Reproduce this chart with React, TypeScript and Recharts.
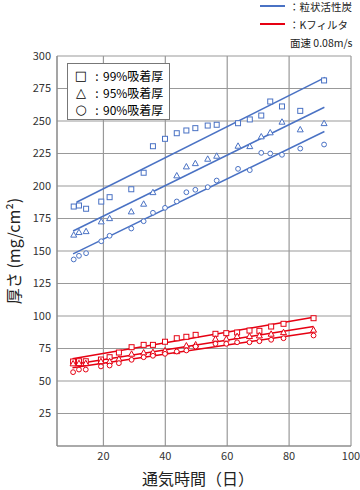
import {
  ScatterChart,
  Scatter,
  XAxis,
  YAxis,
  CartesianGrid,
  Label,
} from "recharts";

// #region Data
const blueDays = [10.4, 12.1, 14.4, 19.3, 22, 29, 33, 36, 39.9, 43.7, 46.8, 49.7, 53.7, 56.6, 63.5, 67.3, 71, 73.9, 77.7, 83.6, 91.3];
const blue99 = [184.2, 185, 182.5, 188, 191.4, 197.5, 210.2, 230.6, 236.3, 240.6, 242.7, 244.5, 246.5, 247.1, 248.3, 251.2, 254.2, 265, 261.2, 257.8, 281.2];
const blue95 = [162.5, 164.5, 165.2, 172.7, 175.2, 180.4, 186.3, 195.2, null, 208.1, 215, 217.5, 220.9, 223.2, 230.9, 230.6, 238.1, 241.2, 249.4, 243.5, 248.3];
const blue90 = [143.5, 146.3, 148.3, 157.5, 161.7, 167.3, 172.9, 179.4, 183.2, 188.1, 195.2, 197.1, 199.1, 204.2, 213.2, 212.2, 225.5, 225, 224, 228.8, 231.9];

const redDays = [10.2, 12.1, 14.3, 19.2, 22, 25, 29.1, 33, 36, 39.9, 43.7, 46.8, 49.8, 56.2, 59.7, 63.2, 67.2, 70.4, 74.2, 78.2, 87.9];
const red99 = [65, 65.2, 65.2, 66.5, 68.3, 71.9, 76, 77.8, 77.8, 80.2, 82.9, 84, 85.5, 86.3, 86.8, 87.3, 88.8, 88.6, 91.9, 94, 98.3];
const red95 = [63.5, 63.7, 63.7, 65.2, 65.2, 67.1, 70.9, 71.9, 72.2, 73.5, 72.9, 77.3, 78.1, 82.5, 82.5, 84.5, 84.5, 85, 86.3, 87.5, 89.4];
const red90 = [56.8, 58.8, 58.8, 61.2, 61.9, 63.7, 66.3, 68.3, 69.4, 70.9, 72.7, 73.5, 76.5, 78.6, 78.6, 79.8, 79.8, 80.6, 81.7, 82.9, 85];

// regression line end points
const blueFit99Days = [11.3, 91.7];
const blueFit99 = [187.5, 283.5];
const blueFitDays = [10.2, 91.4];
const blueFit95 = [165.4, 260.6];
const blueFit90 = [147.8, 241.9];
const redFitDays = [10, 87.9];
const redFit99 = [67.1, 99.1];
const redFit95 = [62.7, 91.9];
const redFit90 = [60.2, 87.5];

const xTicks = [20, 40, 60, 80, 100];
const yTicks = [25, 50, 75, 100, 125, 150, 175, 200, 225, 250, 275, 300];
// #endregion

const BLUE = "#4a72c4";
const RED = "#e60012";
const FONT = "'Noto Sans CJK JP', 'Noto Sans', sans-serif";

const pts = (xs: number[], ys: (number | null)[]) =>
  xs
    .map((x, i) => ({ x, y: ys[i] }))
    .filter((p) => p.y !== null) as { x: number; y: number }[];

const square = (color: string) => (p: any) =>
  <rect x={p.cx - 2.5} y={p.cy - 2.5} width={5} height={5} fill="#fff" stroke={color} strokeWidth={1} />;
const triangle = (color: string) => (p: any) =>
  <polygon points={`${p.cx},${p.cy - 3} ${p.cx - 3},${p.cy + 2.4} ${p.cx + 3},${p.cy + 2.4}`} fill="#fff" stroke={color} strokeWidth={1} />;
const circle = (color: string) => (p: any) =>
  <circle cx={p.cx} cy={p.cy} r={2.4} fill="#fff" stroke={color} strokeWidth={1} />;
const noDot = () => <g />;

const legendRows = [
  { sym: "□", label: "99%吸着厚" },
  { sym: "△", label: "95%吸着厚" },
  { sym: "○", label: "90%吸着厚" },
];

const App = () => {
  return (
    <div style={{ position: "absolute", left: 0, top: 0, width: 360, height: 490, fontFamily: FONT }}>
      <ScatterChart width={360} height={490} margin={{ top: 56, right: 9, bottom: 0, left: 0 }}>
        <CartesianGrid stroke="#999" strokeWidth={1.2} />
        <XAxis
          type="number"
          dataKey="x"
          domain={[5, 100]}
          ticks={xTicks}
          height={44}
          tickLine={false}
          tickMargin={0}
          axisLine={{ stroke: "#888" }}
          tick={{ fontSize: 11, fill: "#333", fontFamily: FONT }}
          allowDataOverflow
        >
          <Label
            value="通気時間（日）"
            position="insideBottom"
            offset={5}
            dx={-6}
            style={{ fontSize: 16, fill: "#222", fontFamily: FONT }}
          />
        </XAxis>
        <YAxis
          type="number"
          dataKey="y"
          domain={[0, 300]}
          ticks={yTicks}
          width={57}
          tickLine={false}
          tickMargin={0}
          axisLine={{ stroke: "#888" }}
          tick={{ fontSize: 11, fill: "#333", fontFamily: FONT }}
          allowDataOverflow
        >
          <Label
            value="厚さ (mg/cm²)"
            angle={-90}
            position="insideLeft"
            offset={14}
            style={{ fontSize: 16, fill: "#222", fontFamily: FONT, textAnchor: "middle" }}
          />
        </YAxis>
        <YAxis
          yAxisId="r"
          orientation="right"
          width={0}
          tick={false}
          tickLine={false}
          domain={[0, 300]}
          axisLine={{ stroke: "#888", strokeWidth: 2 }}
        />

        <Scatter data={pts(blueFit99Days, blueFit99)} line={{ stroke: BLUE, strokeWidth: 1.5 }} shape={noDot} isAnimationActive={false} />
        <Scatter data={pts(blueFitDays, blueFit95)} line={{ stroke: BLUE, strokeWidth: 1.5 }} shape={noDot} isAnimationActive={false} />
        <Scatter data={pts(blueFitDays, blueFit90)} line={{ stroke: BLUE, strokeWidth: 1.5 }} shape={noDot} isAnimationActive={false} />
        <Scatter data={pts(redFitDays, redFit99)} line={{ stroke: RED, strokeWidth: 1.5 }} shape={noDot} isAnimationActive={false} />
        <Scatter data={pts(redFitDays, redFit95)} line={{ stroke: RED, strokeWidth: 1.5 }} shape={noDot} isAnimationActive={false} />
        <Scatter data={pts(redFitDays, redFit90)} line={{ stroke: RED, strokeWidth: 1.5 }} shape={noDot} isAnimationActive={false} />

        <Scatter name="粒状活性炭 99%" data={pts(blueDays, blue99)} shape={square(BLUE)} isAnimationActive={false} />
        <Scatter name="粒状活性炭 95%" data={pts(blueDays, blue95)} shape={triangle(BLUE)} isAnimationActive={false} />
        <Scatter name="粒状活性炭 90%" data={pts(blueDays, blue90)} shape={circle(BLUE)} isAnimationActive={false} />
        <Scatter name="Kフィルタ 99%" data={pts(redDays, red99)} shape={square(RED)} isAnimationActive={false} />
        <Scatter name="Kフィルタ 95%" data={pts(redDays, red95)} shape={triangle(RED)} isAnimationActive={false} />
        <Scatter name="Kフィルタ 90%" data={pts(redDays, red90)} shape={circle(RED)} isAnimationActive={false} />
      </ScatterChart>

      {/* series legend, top right */}
      <div style={{ position: "absolute", left: 260, top: 0, width: 98, fontSize: 10.5, color: "#222", whiteSpace: "nowrap" }}>
        <div style={{ display: "flex", alignItems: "center", height: 12 }}>
          <span style={{ display: "inline-block", width: 25, height: 2, background: BLUE, marginRight: 4 }} />
          ：粒状活性炭
        </div>
        <div style={{ display: "flex", alignItems: "center", height: 12, marginTop: 6 }}>
          <span style={{ display: "inline-block", width: 25, height: 2, background: RED, marginRight: 4 }} />
          ：Kフィルタ
        </div>
        <div style={{ marginLeft: 30, marginTop: 6, lineHeight: "14px" }}>面速 0.08m/s</div>
      </div>

      {/* marker legend box */}
      <div
        style={{
          position: "absolute",
          left: 67,
          top: 63,
          width: 103,
          height: 57,
          background: "#fff",
          border: "1px solid #777",
          fontSize: 12,
          color: "#000",
          paddingTop: 3,
          boxSizing: "border-box",
        }}
      >
        {legendRows.map((r) => (
          <div key={r.label} style={{ display: "flex", alignItems: "center", height: 17 }}>
            <span style={{ width: 20, marginLeft: 3, textAlign: "center", fontSize: 13, color: "#000", fontFamily: "'DejaVu Sans', sans-serif" }}>{r.sym}</span>
            <span style={{ width: 12, textAlign: "center" }}>:</span>
            <span>{r.label}</span>
          </div>
        ))}
      </div>
    </div>
  );
};

export default App;
